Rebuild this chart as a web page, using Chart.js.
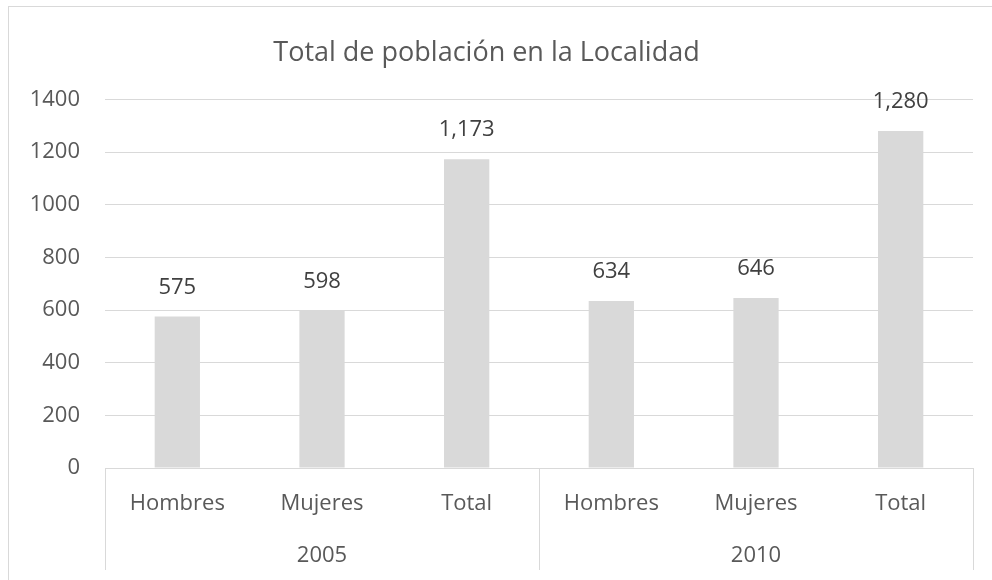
<!DOCTYPE html>
<html>
<head>
<meta charset="utf-8">
<script src="https://cdn.jsdelivr.net/npm/chart.js@4"></script>
<style>
  html, body { margin: 0; padding: 0; background: #fff; }
  #wrap { position: relative; width: 992px; height: 580px; overflow: hidden; }
  #frame { position: absolute; left: 8px; top: 6px; width: 1200px; height: 800px;
           border: 1px solid #d9d9d9; pointer-events: none; }
</style>
</head>
<body>
<div id="wrap">
  <canvas id="myChart" width="992" height="580"></canvas>
  <div id="frame"></div>
</div>
<script>
const years = ["2005", "2010"];
const categories = ["Hombres", "Mujeres", "Total", "Hombres", "Mujeres", "Total"];
const population = [575, 598, 1173, 634, 646, 1280];
const yTicks = [0, 200, 400, 600, 800, 1000, 1200, 1400];

const fontFamily = "'Open Sans', 'Noto Sans', sans-serif";
const gridColor = "#d9d9d9";
const textColor = "#595959";

// value labels above each bar
const barLabels = {
  id: "barLabels",
  afterDatasetsDraw(chart) {
    const ctx = chart.ctx;
    const meta = chart.getDatasetMeta(0);
    ctx.save();
    ctx.font = "22px " + fontFamily;
    ctx.fillStyle = "#404040";
    ctx.textAlign = "center";
    ctx.textBaseline = "middle";
    meta.data.forEach((bar, i) => {
      ctx.fillText(population[i].toLocaleString("en-US"), bar.x, bar.y - 29);
    });
    ctx.restore();
  },
};

// vertical separators between the year groups in the axis area
const groupLines = {
  id: "groupLines",
  afterDraw(chart) {
    const x = chart.scales.x;
    const ctx = chart.ctx;
    const bottom = chart.chartArea.bottom;
    const mid = (x.getPixelForValue(2) + x.getPixelForValue(3)) / 2;
    ctx.save();
    ctx.strokeStyle = gridColor;
    ctx.lineWidth = 1;
    [x.left, mid, x.right].forEach((px) => {
      ctx.beginPath();
      ctx.moveTo(Math.round(px) + 0.5, bottom);
      ctx.lineTo(Math.round(px) + 0.5, bottom + 102);
      ctx.stroke();
    });
    ctx.restore();
  },
};

const ctx = document.getElementById("myChart");

new Chart(ctx, {
  type: "bar",
  data: {
    labels: categories,
    datasets: [
      {
        label: "Población",
        data: population,
        backgroundColor: "#d9d9d9",
        borderWidth: 0,
        barPercentage: 0.313,
        categoryPercentage: 1,
      },
    ],
  },
  options: {
    responsive: false,
    animation: false,
    layout: {
      padding: { left: 0, right: 19, top: 0, bottom: 10 },
    },
    scales: {
      x: {
        grid: { display: false },
        border: { display: true, color: gridColor },
        ticks: { color: textColor, font: { family: fontFamily, size: 22 }, padding: 15 },
        afterFit: (scale) => { scale.height = 50; },
      },
      x2: {
        type: "category",
        labels: years,
        position: "bottom",
        offset: true,
        grid: { display: false },
        border: { display: false },
        ticks: { color: textColor, font: { family: fontFamily, size: 22 }, padding: 17 },
        afterFit: (scale) => { scale.height = 52; },
      },
      y: {
        min: 0,
        max: 1400,
        afterBuildTicks: (scale) => {
          scale.ticks = yTicks.map((v) => ({ value: v }));
        },
        afterFit: (scale) => { scale.width = 105; },
        grid: { color: gridColor, drawTicks: false },
        border: { display: false },
        ticks: {
          color: textColor,
          font: { family: fontFamily, size: 22 },
          padding: 25,
          callback: (value) => String(value),
        },
      },
    },
    plugins: {
      legend: { display: false },
      tooltip: { enabled: false },
      title: {
        display: true,
        text: "Total de población en la Localidad",
        color: textColor,
        font: { family: fontFamily, size: 27, weight: "normal" },
        padding: { top: 37, bottom: 30 },
      },
    },
  },
  plugins: [barLabels, groupLines],
});
</script>
</body>
</html>
